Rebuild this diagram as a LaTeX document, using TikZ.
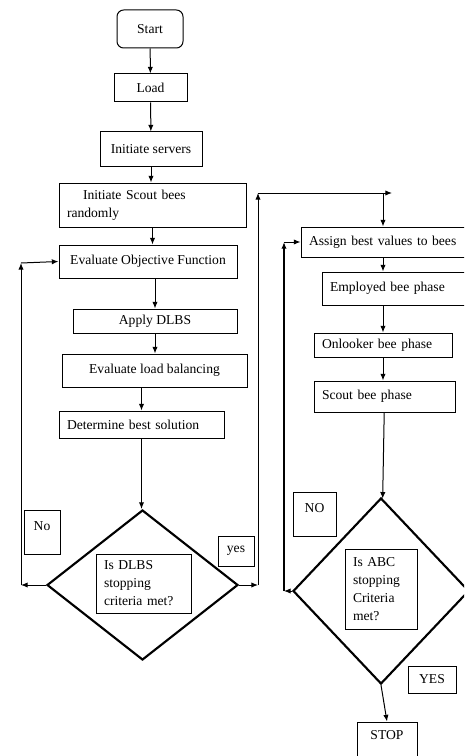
\documentclass[tikz,border=0pt]{standalone}
\usepackage{fontspec}
\setmainfont{Liberation Serif}
\usetikzlibrary{arrows.meta,shapes.geometric}

\tikzset{
  box/.style={draw, line width=0.75pt, inner sep=0pt},
  lbox/.style={box, align=left, inner xsep=6pt},
  dia/.style={draw, diamond, line width=1.6pt, inner sep=0pt},
  arr/.style={-{Latex[length=5pt,width=4pt]}, line width=0.75pt}
}

\begin{document}
\begin{tikzpicture}[x=0.75pt,y=0.75pt,yscale=-1,xscale=1,font=\fontsize{10.2}{13.5}\selectfont]
\useasboundingbox (0,0) rectangle (464,756);
\clip (0,0) rectangle (464,756);

%Shape: Rounded Rect
\node[box, rounded corners=5pt, minimum width=49.5pt, minimum height=28.5pt] (start) at (150,29) {Start};
%Shape: Rectangle
\node[box, minimum width=54.75pt, minimum height=21pt] (load) at (150.5,88) {Load};
%Shape: Rectangle
\node[box, minimum width=76.5pt, minimum height=26.25pt] (servers) at (151,149.5) {Initiate servers};
%Shape: Rectangle
\node[lbox, text width=128.25pt, minimum height=33pt] (scoutinit) at (152.5,205) {\hspace*{12pt}Initiate Scout bees\\randomly};
%Shape: Rectangle
\node[box, minimum width=133.5pt, minimum height=24.75pt] (evalobj) at (148,261.5) {Evaluate Objective Function};
%Shape: Rectangle
\node[box, minimum width=123pt, minimum height=18pt] (apply) at (155,321) {Apply DLBS};
%Shape: Rectangle
\node[box, minimum width=138.75pt, minimum height=24.75pt] (evalload) at (154.5,370.5) {Evaluate load balancing};
%Shape: Rectangle
\node[lbox, text width=111.75pt, minimum height=20.25pt] (best) at (141.5,424.5) {Determine best solution};

%Shape: Diamond
\node[dia, minimum width=143.25pt, minimum height=112.5pt] (dlbs) at (142.5,585) {};
% Text Node
\node[lbox, text width=59.25pt, minimum height=44.25pt] (dlbsq) at (143.5,583.5) {Is DLBS\\stopping\\criteria met?};
% Text Node
\node[box, minimum width=27pt, minimum height=33pt, text depth=9pt] (nobox) at (42,532) {No};
% Text Node
\node[box, minimum width=27pt, minimum height=22.5pt] (yesbox) at (236,551) {yes};

%Shape: Rectangle
\node[lbox, text width=111pt, minimum height=22.5pt] (assign) at (383,242) {Assign best values to bees};
%Shape: Rectangle
\node[lbox, text width=96pt, minimum height=24.75pt] (employed) at (394,288.5) {Employed bee phase};
%Shape: Rectangle
\node[lbox, text width=91.5pt, minimum height=18pt] (onlooker) at (383,345) {Onlooker bee phase};
%Shape: Rectangle
\node[lbox, text width=93.75pt, minimum height=23.25pt] (scoutphase) at (384.5,396.5) {Scout bee phase};

%Shape: Diamond
\node[dia, minimum width=132pt, minimum height=139.5pt] (abc) at (381,591) {};
% Text Node
\node[lbox, text width=42pt, minimum height=60pt] (abcq) at (381,589) {Is ABC\\stopping\\Criteria\\met?};
% Text Node
\node[box, minimum width=32.25pt, minimum height=33pt, text depth=9pt] (NObox) at (314.5,514) {NO};
% Text Node
\node[box, minimum width=36pt, minimum height=20.25pt] (YESbox) at (432,679.5) {YES};
%Shape: Rectangle
\node[box, minimum width=45pt, minimum height=30pt, text depth=10pt] (stop) at (387,742) {STOP};

%Straight Lines
\draw[arr] (start) -- (load);
\draw[arr] (load) -- (servers);
\draw[arr] (servers.south) -- (servers.south |- scoutinit.north);
\draw[arr] (scoutinit.south) -- (scoutinit.south |- evalobj.north);
\draw[arr] (evalobj.south -| apply.north) -- (apply.north);
\draw[arr] (apply.south) -- (apply.south |- evalload.north);
\draw[arr] (evalload.south -| best.north) -- (best.north);
\draw[arr] (best.south) -- (best.south |- dlbs.north);

%Straight Lines
\coordinate (noend) at (21,585);
\coordinate (noturn) at (21,263);
\draw[arr] (dlbs.west) -- (noend);
\draw[arr] (noend) -- (noturn);
\draw[arr] (noturn) -- (evalobj.west);

%Straight Lines
\coordinate (yesend) at (258,585);
\coordinate (yesturn) at (258,193);
\coordinate (yestop) at (392,193);
\draw[arr] (dlbs.east) -- (yesend);
\draw[arr] (yesend) -- (yesturn);
\draw[arr] (yesturn) -- (yestop);
\draw[arr] (assign.north |- yesturn) -- (assign.north);

%Straight Lines
\draw[arr] (assign.south) -- (assign.south |- employed.north);
\draw[arr] (employed.south -| assign.south) -- (onlooker.north -| assign.south);
\draw[arr] (onlooker.south -| assign.south) -- (scoutphase.north -| assign.south);
\draw[arr] (scoutphase) -- (abc);

%Straight Lines
\coordinate (abcend) at (284,591);
\coordinate (abcturn) at (284,242);
\draw[arr] (abc.west) -- (abcend);
\draw[arr, line width=1.2pt] (abcend) -- (abcturn);
\draw[arr] (abcturn) -- (assign.west);
\draw[arr] (abc.south) -- (stop.north);

\end{tikzpicture}
\end{document}
